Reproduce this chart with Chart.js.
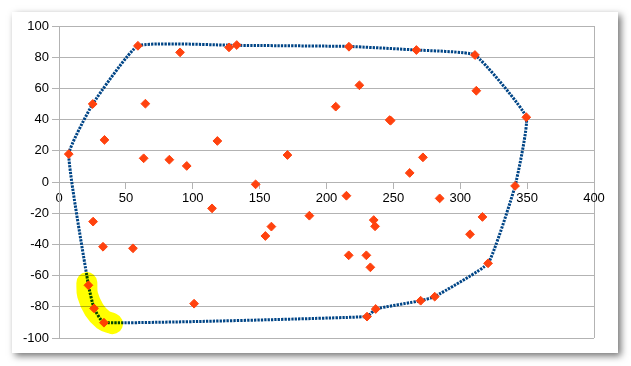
<!DOCTYPE html>
<html>
<head>
<meta charset="utf-8">
<script src="https://cdn.jsdelivr.net/npm/chart.js@4"></script>
<style>
  html, body { margin: 0; padding: 0; background: #fff; }
  body { width: 631px; height: 366px; position: relative; overflow: hidden; }
  .frame {
    position: absolute; left: 12px; top: 12px; width: 606px; height: 341px;
    background: #fff; box-shadow: 3px 3px 7px rgba(0, 0, 0, 0.55);
  }
  .chart-wrap { position: absolute; left: 0; top: 0; width: 631px; height: 366px; }
</style>
</head>
<body>
<div class="frame"></div>
<div class="chart-wrap"><canvas id="hullChart"></canvas></div>
<script>
// scattered points
const pointX = [7.3, 25.2, 34, 59, 64.6, 63.3, 82.5, 90.5, 95.5, 118.4,
  127.1, 132.9, 147, 170.8, 216.8, 224.6, 206.9, 247.2, 248, 267.2,
  311, 312, 349.4, 272.1, 262.2, 341, 25.5, 32.9, 55.3, 22,
  26.2, 33.6, 101, 114.4, 154.3, 158.8, 187.2, 214.9, 216.6, 229.8,
  232.8, 235.3, 236.3, 230.3, 236.8, 270.4, 280.9, 320.8, 307.3, 316.6, 284.6];
const pointY = [17.9, 50, 27, 87.3, 50.2, 15.2, 14.3, 83.1, 10.3, 26.3,
  86.3, 87.8, -1.5, 17.3, 86.7, 62, 48.3, 39.7, 39.4, 84.6,
  81.4, 58.5, 41.5, 15.8, 5.8, -2.5, -25.4, -41.5, -42.5, -66.2,
  -81, -90.2, -78, -16.9, -34.6, -28.6, -21.6, -8.8, -47, -47,
  -54.7, -24.4, -28.4, -86.3, -81.4, -76.1, -73.5, -52.1, -33.5, -22.4, -10.5];

// hull outline, closed loop
const hullX = [132.9, 216.8, 267.2, 311, 349.4, 341, 320.8, 280.9, 270.4, 236.8,
  230.3, 33.6, 26.2, 22, 7.3, 25.2, 59, 132.9];
const hullY = [87.6, 86.9, 84.6, 81.4, 41.5, -2.5, -52.1, -73.5, -76.1, -81.4,
  -86.3, -90.2, -81, -66.2, 17.9, 50, 87.3, 87.6];

// yellow marker stroke over the lower-left corner
const markX = [20.8, 21.4, 26.3, 33, 40];
const markY = [-64.5, -72.5, -82, -88.3, -90.8];

const xTicks = [0, 50, 100, 150, 200, 250, 300, 350, 400];
const yTicks = [-100, -80, -60, -40, -20, 0, 20, 40, 60, 80, 100];

const toXY = (xs, ys) => xs.map((x, i) => ({ x, y: ys[i] }));

const gridGray = '#b3b3b3';
const tickFont = { family: '"Liberation Sans", Arial, sans-serif', size: 13 };

const multiplyMark = {
  id: 'multiplyMark',
  beforeDatasetDraw(chart, args) {
    if (args.index === 2) {
      chart.ctx.save();
      chart.ctx.globalCompositeOperation = 'multiply';
    }
  },
  afterDatasetDraw(chart, args) {
    if (args.index === 2) chart.ctx.restore();
  }
};

const canvas = document.querySelector('#hullChart');
new Chart(canvas, {
  type: 'scatter',
  data: {
    datasets: [
      {
        label: 'Points',
        data: toXY(pointX, pointY),
        pointStyle: 'rectRot',
        pointRadius: 4.4,
        pointBorderWidth: 1,
        backgroundColor: '#ff420e',
        borderColor: '#ff420e',
        order: 1
      },
      {
        label: 'Hull',
        data: toXY(hullX, hullY),
        showLine: true,
        pointRadius: 0,
        borderColor: '#004586',
        borderWidth: 3,
        borderDash: [2.3, 1.1],
        tension: 0.12,
        order: 2
      },
      {
        label: 'Mark',
        data: toXY(markX, markY),
        showLine: true,
        pointRadius: 0,
        borderColor: '#ffff00',
        borderWidth: 21,
        borderCapStyle: 'round',
        borderJoinStyle: 'round',
        tension: 0.4,
        clip: false,
        order: 0
      }
    ]
  },
  options: {
    responsive: true,
    maintainAspectRatio: false,
    animation: false,
    layout: { padding: { left: 10, right: 37, top: 26, bottom: 28 } },
    plugins: {
      legend: { display: false },
      tooltip: { enabled: false }
    },
    scales: {
      x: {
        type: 'linear',
        position: { y: 0 },
        min: 0,
        max: 400,
        afterBuildTicks: (s) => { s.ticks = xTicks.map((v) => ({ value: v })); },
        ticks: { color: '#000', font: tickFont, padding: 3, maxRotation: 0 },
        grid: {
          color: (ctx) => (ctx.tick && (ctx.tick.value === 0 || ctx.tick.value === 400)) ? gridGray : 'rgba(0,0,0,0)',
          tickColor: gridGray,
          tickLength: 6
        },
        border: { color: gridGray }
      },
      y: {
        type: 'linear',
        min: -100,
        max: 100,
        afterBuildTicks: (s) => { s.ticks = yTicks.map((v) => ({ value: v })); },
        afterFit: (s) => { s.width = 49; },
        ticks: { color: '#000', font: tickFont, padding: 3 },
        grid: { color: gridGray, tickColor: gridGray, tickLength: 7 },
        border: { color: gridGray }
      }
    }
  },
  plugins: [multiplyMark]
});
</script>
</body>
</html>
